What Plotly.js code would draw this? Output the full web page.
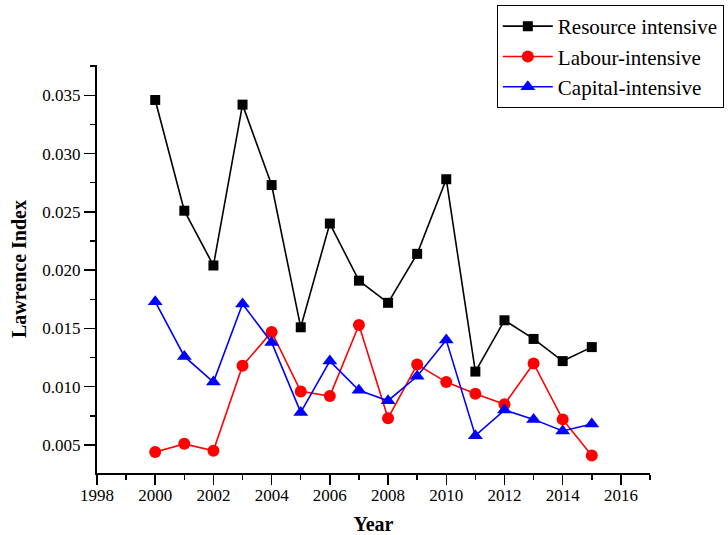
<!DOCTYPE html>
<html>
<head>
<meta charset="utf-8">
<script src="https://cdn.plot.ly/plotly-3.0.1.min.js"></script>
<style>html,body{margin:0;padding:0;background:#fff;}#chart{width:728px;height:535px;}</style>
</head>
<body>
<div id="chart"></div>
<script>
const years = [2000,2001,2002,2003,2004,2005,2006,2007,2008,2009,2010,2011,2012,2013,2014,2015];
const resourceIntensive = [0.0346,0.0251,0.0204,0.0342,0.0273,0.0151,0.0240,0.0191,0.0172,0.0214,0.0278,0.0113,0.0157,0.0141,0.0122,0.0134];
const labourIntensive = [0.0044,0.0051,0.0045,0.0118,0.0147,0.0096,0.0092,0.0153,0.0073,0.0119,0.0104,0.0094,0.0085,0.0120,0.0072,0.0041];
const capitalIntensive = [0.0173,0.0126,0.0104,0.0171,0.0138,0.0078,0.0122,0.0097,0.0088,0.0109,0.0140,0.0058,0.0080,0.0072,0.0062,0.0068];
const seriesNames = ["Resource intensive","Labour-intensive","Capital-intensive"];

const font = "'Liberation Serif', 'Times New Roman', serif";
const traces = [
  {x: years, y: resourceIntensive, name: seriesNames[0], type: "scatter", mode: "lines+markers",
   line: {color: "#000000", width: 1.6}, marker: {symbol: "square", size: 10, color: "#000000"}},
  {x: years, y: labourIntensive, name: seriesNames[1], type: "scatter", mode: "lines+markers",
   line: {color: "#ff0000", width: 1.6}, marker: {symbol: "circle", size: 12, color: "#ff0000"}},
  {x: years, y: capitalIntensive, name: seriesNames[2], type: "scatter", mode: "lines+markers",
   line: {color: "#0000ff", width: 1.6}, marker: {symbol: "triangle-up", size: 13, color: "#0000ff"}}
];
const layout = {
  width: 728, height: 535,
  margin: {l: 97, r: 78, t: 65, b: 62, autoexpand: false},
  paper_bgcolor: "#fff", plot_bgcolor: "#fff",
  font: {family: font, size: 17, color: "#000"},
  showlegend: true,
  legend: {x: 0.723, y: 1.147, xanchor: "left", yanchor: "top",
           bordercolor: "#000", borderwidth: 1, bgcolor: "#fff", itemwidth: 50,
           font: {family: font, size: 21, color: "#000"}, tracegroupgap: 0},
  xaxis: {range: [1998, 2017], tick0: 1998, dtick: 2, showgrid: false, zeroline: false,
          showline: true, linecolor: "#000", linewidth: 2,
          ticks: "outside", ticklen: 10, tickwidth: 1.5, tickcolor: "#000", ticklabelstandoff: -4,
          minor: {dtick: 1, ticks: "outside", ticklen: 5, tickwidth: 1.5, tickcolor: "#000", showgrid: false},
          tickfont: {family: font, size: 17, color: "#000"},
          title: {text: "<b>Year</b>", font: {family: font, size: 20, color: "#000"}, standoff: 16}},
  yaxis: {range: [0.0026, 0.0376], tick0: 0.005, dtick: 0.005, tickformat: ".3f",
          showgrid: false, zeroline: false,
          showline: true, linecolor: "#000", linewidth: 2,
          ticks: "outside", ticklen: 11, tickwidth: 1.5, tickcolor: "#000",
          minor: {dtick: 0.0025, ticks: "outside", ticklen: 5, tickwidth: 1.5, tickcolor: "#000", showgrid: false},
          tickfont: {family: font, size: 17, color: "#000"},
          title: {text: "<b>Lawrence Index</b>", font: {family: font, size: 20, color: "#000"}, standoff: 10}}
};
Plotly.newPlot("chart", traces, layout, {displayModeBar: false, staticPlot: true});
</script>
</body>
</html>
